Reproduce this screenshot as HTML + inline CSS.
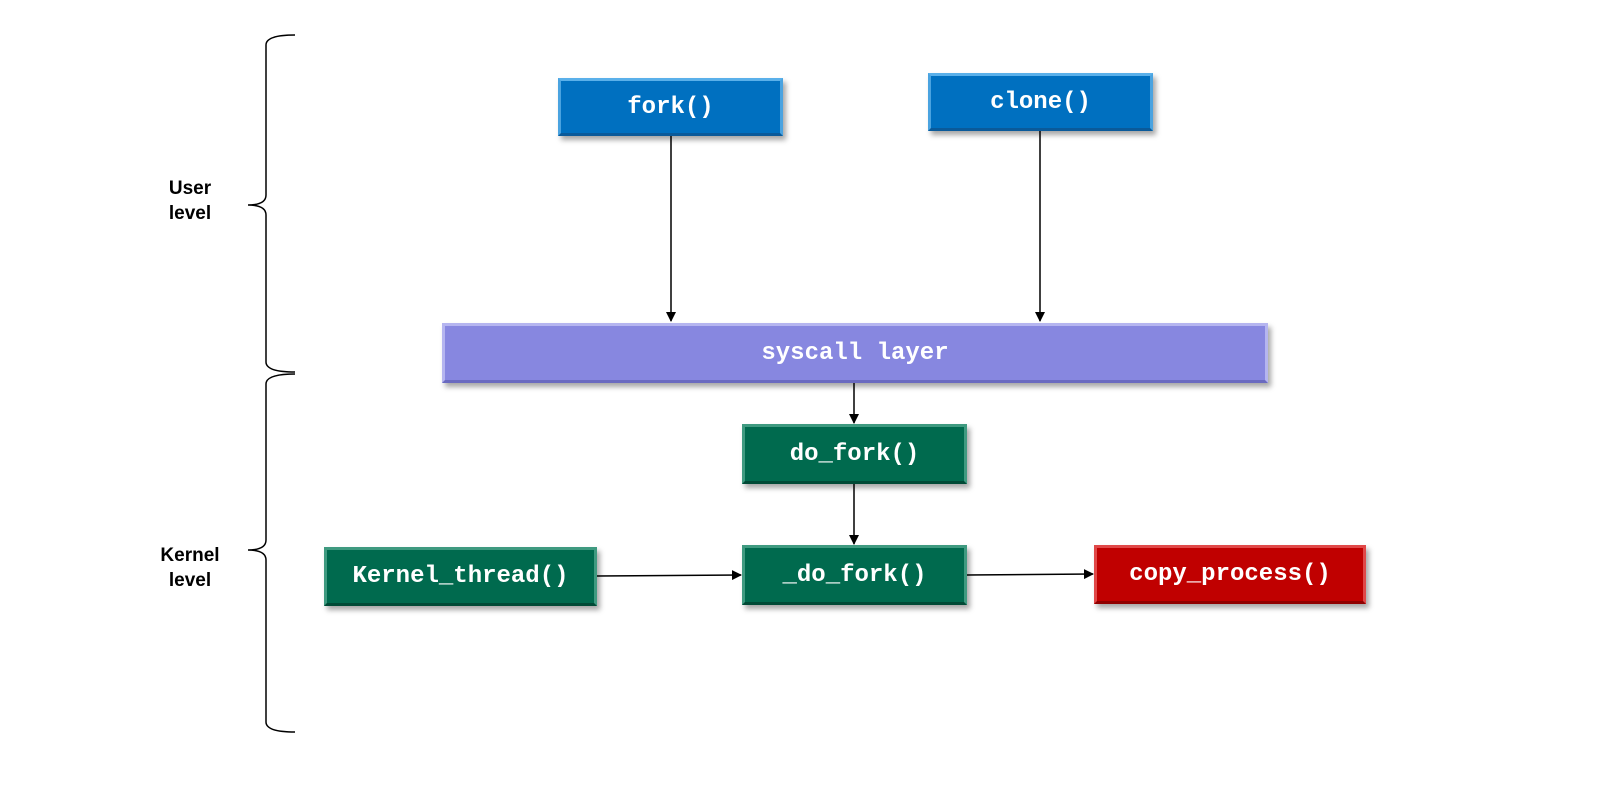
<!DOCTYPE html>
<html><head><style>
body{margin:0;background:#fff;width:1613px;height:788px;position:relative;overflow:hidden;font-family:"Liberation Sans",sans-serif}
.b{position:absolute;display:flex;align-items:center;justify-content:center;color:#fff;font:bold 24px "Liberation Mono",monospace;box-sizing:border-box;box-shadow:3px 4px 5px rgba(0,0,0,0.35)}
.blue{background:#0070c0;border:3px solid #4aa3e0;border-top-color:#5ab0ea;border-bottom-color:#0a5a9a}
.green{background:#006a4e;border:3px solid #3f9a80;border-bottom-color:#004a36}
.red{background:#c00000;border:3px solid #e04848;border-bottom-color:#900000}
.pur{background:#8787e0;border:3px solid #b5b5f0;border-bottom-color:#6a6ac0}
.l{position:absolute;font-weight:bold;font-size:19px;text-align:center;line-height:25px;color:#000}
</style></head><body>
<svg width="1613" height="788" style="position:absolute;left:0;top:0">
<defs><marker id="a" markerWidth="10" markerHeight="10" refX="9" refY="5" orient="auto" markerUnits="userSpaceOnUse"><path d="M0,0 L10,5 L0,10z" fill="#000"/></marker></defs>
<g stroke="#000" stroke-width="1.5" fill="none">
<path d="M295,35 Q266,35 266,45 L266,195 Q266,205 248,205 Q266,205 266,215 L266,362 Q266,372 295,372"/>
<path d="M295,374 Q266,374 266,384 L266,540 Q266,550 248,550 Q266,550 266,560 L266,722 Q266,732 295,732"/>
<line x1="671" y1="136" x2="671" y2="321" marker-end="url(#a)"/>
<line x1="1040" y1="131" x2="1040" y2="321" marker-end="url(#a)"/>
<line x1="854" y1="383" x2="854" y2="423" marker-end="url(#a)"/>
<line x1="854" y1="484" x2="854" y2="544" marker-end="url(#a)"/>
<line x1="597" y1="576" x2="741" y2="575" marker-end="url(#a)"/>
<line x1="967" y1="575" x2="1093" y2="574" marker-end="url(#a)"/>
</g></svg>
<div class="l" style="left:150px;top:176px;width:80px">User<br>level</div>
<div class="l" style="left:150px;top:543px;width:80px">Kernel<br>level</div>
<div class="b blue" style="left:558px;top:78px;width:225px;height:58px">fork()</div>
<div class="b blue" style="left:928px;top:73px;width:225px;height:58px">clone()</div>
<div class="b pur" style="left:442px;top:323px;width:826px;height:60px">syscall layer</div>
<div class="b green" style="left:742px;top:424px;width:225px;height:60px">do_fork()</div>
<div class="b green" style="left:324px;top:547px;width:273px;height:59px">Kernel_thread()</div>
<div class="b green" style="left:742px;top:545px;width:225px;height:60px">_do_fork()</div>
<div class="b red" style="left:1094px;top:545px;width:272px;height:59px">copy_process()</div>
</body></html>
